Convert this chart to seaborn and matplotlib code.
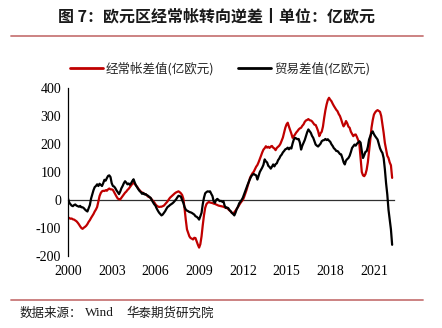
import matplotlib
matplotlib.use("Agg")
import matplotlib.pyplot as plt
from matplotlib.lines import Line2D
import numpy as np
import pandas as pd
import seaborn as sns

# ---------------- data (monthly readings, 亿欧元), 2000-01 .. 2022-04 ----------------
dates = pd.date_range("2000-01-01", "2022-04-01", freq="MS")
current_account = [
    # 2000
    -66, -64, -67, -66, -69, -70, -73, -76, -81, -87, -94, -100,
    # 2001
    -103, -99, -96, -92, -86, -78, -72, -64, -57, -50, -41, -34,
    # 2002
    -25, -6, 14, 25, 31, 33, 32, 35, 33, 38, 41, 38,
    # 2003
    38, 36, 28, 20, 12, 5, 3, 2, 8, 14, 20, 26,
    # 2004
    30, 36, 40, 46, 52, 58, 61, 57, 52, 47, 40, 35,
    # 2005
    30, 27, 25, 22, 20, 17, 12, 10, 7, 2, -3, -8,
    # 2006
    -15, -20, -23, -25, -24, -24, -22, -20, -15, -10, -5, 2,
    # 2007
    8, 12, 16, 20, 24, 27, 29, 31, 28, 24, 18, 5,
    # 2008
    -30, -70, -105, -118, -130, -136, -138, -141, -135, -136, -148, -160,
    # 2009
    -170, -158, -130, -90, -55, -28, -15, -10, -7, -9, -10, -11,
    # 2010
    -13, -14, -16, -18, -20, -21, -22, -23, -24, -26, -28, -29,
    # 2011
    -33, -37, -41, -46, -48, -44, -38, -32, -25, -18, -11, -5,
    # 2012
    0, 10, 22, 35, 50, 66, 80, 88, 96, 101, 110, 119,
    # 2013
    125, 135, 146, 158, 170, 180, 185, 192, 187, 190, 186, 191,
    # 2014
    193, 187, 184, 178, 186, 190, 194, 201, 212, 223, 240, 258,
    # 2015
    270, 276, 262, 250, 237, 222, 228, 234, 241, 246, 252, 256,
    # 2016
    258, 265, 270, 279, 284, 286, 289, 285, 284, 281, 275, 269,
    # 2017
    268, 258, 246, 228, 238, 244, 262, 293, 320, 341, 357, 365,
    # 2018
    358, 353, 344, 336, 329, 322, 317, 307, 300, 288, 274, 263,
    # 2019
    270, 282, 274, 262, 258, 244, 236, 228, 233, 234, 225, 214,
    # 2020
    200, 150, 100, 88, 85, 92, 108, 135, 174, 215, 258, 285,
    # 2021
    305, 313, 318, 321, 318, 315, 300, 270, 240, 204, 180, 158,
    # 2022
    150, 134, 124, 79,
]
trade_balance = [
    # 2000
    5, -9, -15, -20, -22, -18, -16, -20, -22, -24, -21, -26,
    # 2001
    -26, -29, -34, -38, -41, -30, -18, 5, 20, 35, 46, 50,
    # 2002
    56, 50, 58, 54, 50, 60, 72, 69, 78, 86, 88, 82,
    # 2003
    60, 50, 48, 42, 34, 28, 21, 30, 42, 50, 60, 67,
    # 2004
    62, 56, 59, 54, 60, 68, 74, 62, 52, 45, 38, 32,
    # 2005
    28, 22, 25, 20, 21, 17, 15, 11, 8, 0, -8, -15,
    # 2006
    -20, -30, -38, -45, -50, -55, -52, -46, -40, -32, -25, -22,
    # 2007
    -18, -15, -12, -8, -3, 2, 9, 15, 14, 12, 0, -10,
    # 2008
    -25, -34, -38, -40, -43, -44, -46, -49, -52, -58, -60, -64,
    # 2009
    -70, -58, -46, -15, 8, 24, 28, 31, 30, 31, 22, 14,
    # 2010
    -5, -10, 0, 4, 0, -4, -3, -6, -4, -20, -28, -27,
    # 2011
    -29, -36, -40, -46, -50, -55, -45, -32, -24, -12, -6, 0,
    # 2012
    8, 20, 32, 43, 55, 66, 76, 85, 90, 93, 90, 88,
    # 2013
    73, 86, 100, 108, 116, 126, 145, 138, 134, 122, 118, 112,
    # 2014
    119, 127, 120, 128, 131, 142, 148, 157, 162, 170, 175, 181,
    # 2015
    183, 187, 181, 187, 184, 202, 216, 222, 220, 217, 218, 205,
    # 2016
    180, 194, 204, 214, 228, 242, 252, 246, 240, 229, 222, 210,
    # 2017
    198, 194, 191, 196, 201, 210, 213, 214, 218, 214, 217, 212,
    # 2018
    208, 199, 193, 185, 181, 175, 175, 170, 164, 163, 150, 135,
    # 2019
    127, 141, 146, 150, 158, 171, 186, 192, 198, 194, 201, 205,
    # 2020
    210, 205, 175, 150, 160, 172, 174, 190, 216, 228, 240, 245,
    # 2021
    235, 228, 222, 216, 200, 185, 175, 168, 150, 110, 60, 20,
    # 2022
    -35, -70, -105, -160,
]
series_names = ["经常帐差值(亿欧元)", "贸易差值(亿欧元)"]
series_colors = ["#C00000", "#000000"]
year_ticks = [2000, 2003, 2006, 2009, 2012, 2015, 2018, 2021]
y_ticks = [-200, -100, 0, 100, 200, 300, 400]

title_text = "图 7：欧元区经常帐转向逆差丨单位：亿欧元"

# ---------------- figure ----------------
sns.set_style("white")
plt.rcParams["font.family"] = ["Liberation Serif", "Noto Sans CJK SC"]
plt.rcParams["axes.unicode_minus"] = False

W, H = 442, 328
fig = plt.figure(figsize=(W / 100, H / 100), dpi=100)
ax = fig.add_axes([68 / W, 1 - 256 / H, (393.6 - 68) / W, (256 - 88) / H])

df = pd.DataFrame({
    "t": dates.year + (dates.month - 1) / 12.0,
    "ca": current_account,
    "tb": trade_balance,
})
sns.lineplot(data=df, x="t", y="ca", color=series_colors[0], linewidth=1.6, ax=ax)
sns.lineplot(data=df, x="t", y="tb", color=series_colors[1], linewidth=1.6, ax=ax)

ax.set_xlim(2000, 2022.35)
ax.set_ylim(-200, 400)
ax.set_xlabel("")
ax.set_ylabel("")
ax.set_xticks(year_ticks)
ax.set_yticks(y_ticks)
ax.set_yticklabels([str(v) for v in y_ticks], fontsize=10, family="Liberation Serif")
ax.set_xticklabels([str(v) for v in year_ticks], fontsize=10, family="Liberation Serif")

for s in ["top", "right"]:
    ax.spines[s].set_visible(False)
ax.spines["left"].set_color("black")
ax.spines["left"].set_linewidth(0.9)
ax.spines["bottom"].set_position(("data", 0))
ax.spines["bottom"].set_color("#303030")
ax.spines["bottom"].set_linewidth(0.9)
ax.spines["bottom"].set_zorder(1)
ax.tick_params(axis="y", direction="out", length=3, width=0.8, colors="black", pad=2)
ax.tick_params(axis="x", direction="out", length=3, width=0.8, colors="#303030",
               labelcolor="black", pad=44)
ax.grid(False)
ax.set_facecolor("white")

# legend
handles = [Line2D([0], [0], color=c, lw=2.0) for c in series_colors]
fig.legend(handles, series_names, loc="center", bbox_to_anchor=(220 / W, 1 - 69 / H),
           ncol=2, frameon=False, handlelength=2.6, handletextpad=0.25,
           columnspacing=1.9, prop={"family": ["Noto Sans CJK SC"], "size": 9})

# title and rules
fig.text(216 / W, 1 - 16 / H, title_text, ha="center", va="center", fontsize=11.5,
         fontweight="bold", family=["Noto Sans CJK SC"], color="#1a1a1a")
fig.add_artist(Line2D([11 / W, 423 / W], [1 - 36 / H, 1 - 36 / H], color="#C87878", lw=1.3))
fig.add_artist(Line2D([11 / W, 423 / W], [1 - 300 / H, 1 - 300 / H], color="#C87878", lw=1.3))

# footer
fig.text(20 / W, 1 - 313 / H, "数据来源：", ha="left", va="center", fontsize=9,
         family=["Noto Sans CJK SC"], color="#1a1a1a")
fig.text(85 / W, 1 - 313 / H, "Wind", ha="left", va="center", fontsize=9.5,
         family=["Liberation Serif"], color="#1a1a1a")
fig.text(126 / W, 1 - 313 / H, "华泰期货研究院", ha="left", va="center", fontsize=9,
         family=["Noto Sans CJK SC"], color="#1a1a1a")

fig.savefig("out.png", dpi=100, facecolor="white")
